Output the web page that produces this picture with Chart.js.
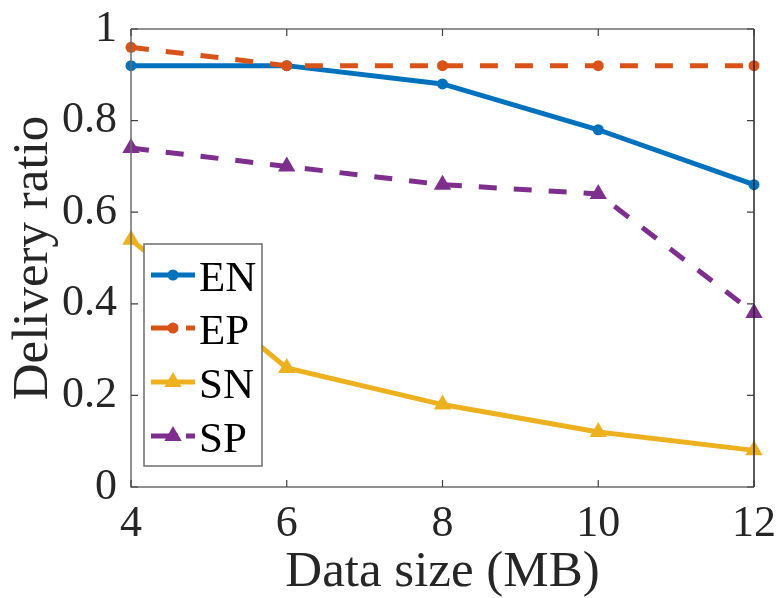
<!DOCTYPE html>
<html>
<head>
<meta charset="utf-8">
<script src="https://cdn.jsdelivr.net/npm/chart.js@4.4.0/dist/chart.umd.min.js"></script>
<style>
  html, body { margin: 0; padding: 0; background: #ffffff; }
  #wrap { width: 780px; height: 598px; position: relative; }
</style>
</head>
<body>
<div id="wrap"><canvas id="c" width="780" height="598"></canvas></div>
<script>
// ---- data ----
const dataSizes = [4, 6, 8, 10, 12];
const seriesNames = ['EN', 'EP', 'SN', 'SP'];
const enValues = [0.92, 0.92, 0.88, 0.78, 0.66];
const epValues = [0.96, 0.92, 0.92, 0.92, 0.92];
const snValues = [0.54, 0.26, 0.18, 0.12, 0.08];
const spValues = [0.74, 0.70, 0.66, 0.64, 0.38];
const xTicks = [4, 6, 8, 10, 12];
const yTicks = [0, 0.2, 0.4, 0.6, 0.8, 1];
const xTitle = 'Data size (MB)';
const yTitle = 'Delivery ratio';

const colors = ['#0072BD', '#D95319', '#EDB120', '#7E2F8E'];
const FONT = '"Liberation Serif", "Times New Roman", serif';
const DASH = [18, 17];

function pts(vals) { return dataSizes.map((x, i) => ({ x: x, y: vals[i] })); }

const styles = [
  { dash: [], point: 'circle', r: 5.5 },
  { dash: DASH, point: 'circle', r: 5.5 },
  { dash: [], point: 'triangle', r: 10 },
  { dash: DASH, point: 'triangle', r: 10 }
];
const allValues = [enValues, epValues, snValues, spValues];

const datasets = allValues.map((vals, i) => ({
  label: seriesNames[i],
  data: pts(vals),
  borderColor: colors[i],
  backgroundColor: colors[i],
  borderWidth: 5,
  borderDash: styles[i].dash,
  borderCapStyle: 'butt',
  pointStyle: styles[i].point,
  pointRadius: styles[i].r,
  pointBorderWidth: 0,
  pointBackgroundColor: colors[i],
  pointBorderColor: colors[i],
  tension: 0,
  fill: false,
  clip: false,
  order: 4 - i
}));

const matlabAxes = {
  id: 'matlabAxes',
  afterDatasetsDraw(chart) {
    const ctx = chart.ctx;
    const a = chart.chartArea;
    const xs = chart.scales.x, ys = chart.scales.y;
    ctx.save();
    ctx.lineWidth = 1.5;
    ctx.strokeStyle = '#6e6e6e';
    ctx.beginPath();
    ctx.moveTo(a.left, a.top); ctx.lineTo(a.right, a.top);
    ctx.moveTo(a.left, a.top); ctx.lineTo(a.left, a.bottom);
    ctx.lineTo(a.right, a.bottom);
    ctx.stroke();
    ctx.strokeStyle = '#262626';
    ctx.beginPath();
    ctx.moveTo(a.right, a.top); ctx.lineTo(a.right, a.bottom);
    ctx.stroke();
    const TL = 7;
    ctx.strokeStyle = '#404040';
    ctx.lineWidth = 1.2;
    ctx.beginPath();
    xTicks.forEach(v => {
      const px = xs.getPixelForValue(v);
      ctx.moveTo(px, a.bottom); ctx.lineTo(px, a.bottom - TL);
      ctx.moveTo(px, a.top); ctx.lineTo(px, a.top + TL);
    });
    yTicks.forEach(v => {
      const py = ys.getPixelForValue(v);
      ctx.moveTo(a.left, py); ctx.lineTo(a.left + TL, py);
      ctx.moveTo(a.right, py); ctx.lineTo(a.right - TL, py);
    });
    ctx.stroke();

    // legend
    const L = { x0: 144, y0: 244, x1: 262, y1: 466 };
    ctx.fillStyle = '#ffffff';
    ctx.fillRect(L.x0, L.y0, L.x1 - L.x0, L.y1 - L.y0);
    ctx.strokeStyle = '#6e6e6e';
    ctx.lineWidth = 1.5;
    ctx.strokeRect(L.x0, L.y0, L.x1 - L.x0, L.y1 - L.y0);
    const rowY = [275, 328, 382, 436];
    seriesNames.forEach((name, i) => {
      const y = rowY[i];
      const ds = chart.data.datasets[i];
      ctx.strokeStyle = ds.borderColor;
      ctx.lineWidth = 5;
      ctx.lineCap = 'butt';
      ctx.setLineDash(styles[i].dash.length ? [27, 8] : []);
      ctx.beginPath();
      ctx.moveTo(151, y); ctx.lineTo(195, y);
      ctx.stroke();
      ctx.setLineDash([]);
      ctx.fillStyle = ds.borderColor;
      Chart.helpers.drawPoint(ctx, {
        pointStyle: styles[i].point, radius: styles[i].r, rotation: 0, borderWidth: 0
      }, 173, y);
      ctx.fillStyle = '#000000';
      ctx.font = '43px ' + FONT;
      ctx.textAlign = 'left';
      ctx.textBaseline = 'middle';
      ctx.fillText(name, 199, y + 5);
    });
    ctx.restore();
  }
};

function noPad(s) { s.paddingTop = 0; s.paddingBottom = 0; s.paddingLeft = 0; s.paddingRight = 0; }

new Chart(document.getElementById('c'), {
  type: 'line',
  data: { datasets: datasets },
  plugins: [matlabAxes],
  options: {
    responsive: false,
    animation: false,
    devicePixelRatio: 1,
    layout: { padding: { top: 29, right: 26, left: 0, bottom: 0 } },
    plugins: { legend: { display: false }, tooltip: { enabled: false } },
    scales: {
      x: {
        type: 'linear',
        min: 4, max: 12,
        afterFit(s) { s.height = 111; noPad(s); },
        afterBuildTicks(s) { s.ticks = xTicks.map(v => ({ value: v })); },
        grid: { display: false, drawTicks: false },
        border: { display: false },
        ticks: { color: '#262626', padding: 11, font: { family: FONT, size: 44 },
                 callback: v => String(v) },
        title: { display: true, text: xTitle, color: '#262626',
                 font: { family: FONT, size: 51, lineHeight: 1 }, padding: { top: 0, bottom: 0 } }
      },
      y: {
        type: 'linear',
        min: 0, max: 1,
        afterFit(s) { s.width = 131; noPad(s); },
        afterBuildTicks(s) { s.ticks = yTicks.map(v => ({ value: v })); },
        grid: { display: false, drawTicks: false },
        border: { display: false },
        ticks: { color: '#262626', padding: 14, font: { family: FONT, size: 44 },
                 callback: v => String(Math.round(v * 10) / 10) },
        title: { display: true, text: yTitle, color: '#262626',
                 font: { family: FONT, size: 51, lineHeight: 1 }, padding: { top: 8, bottom: 0 } }
      }
    }
  }
});
</script>
</body>
</html>
